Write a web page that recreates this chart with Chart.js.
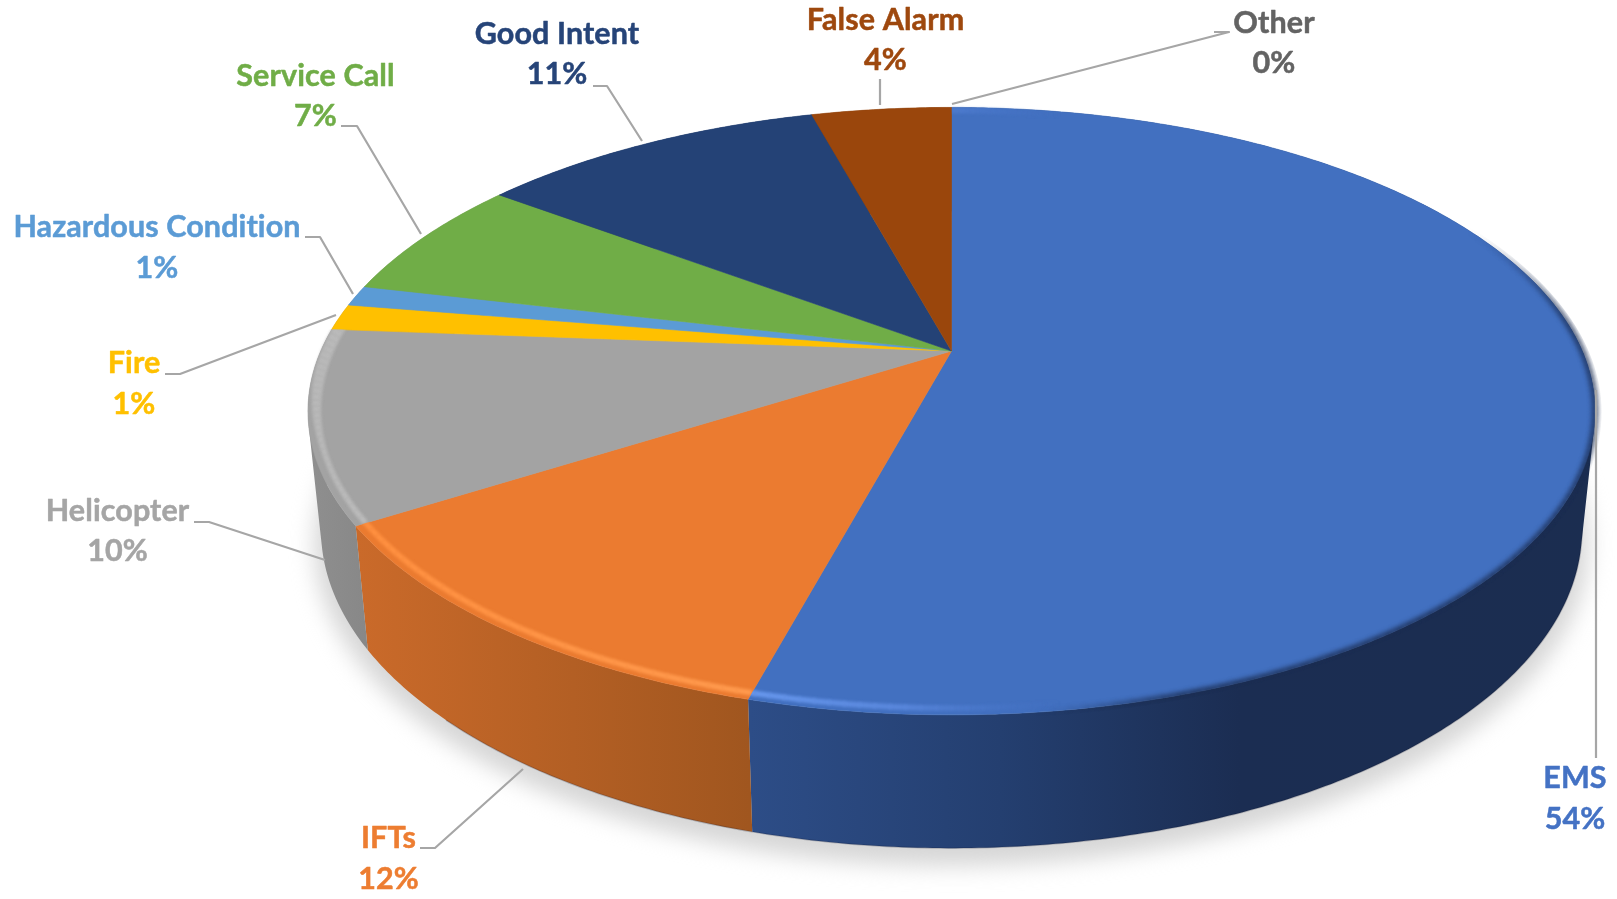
<!DOCTYPE html>
<html>
<head>
<meta charset="utf-8">
<style>html,body{margin:0;padding:0;background:#fff;overflow:hidden}canvas{display:block}</style>
<script src="https://cdn.jsdelivr.net/npm/chart.js@4/dist/chart.umd.js"></script>
</head>
<body>
<canvas id="c" width="1617" height="899"></canvas>
<script>
const categories = ["EMS","IFTs","Helicopter","Fire","Hazardous Condition","Service Call","Good Intent","False Alarm","Other"];
const shareValues = [54.2,11.8,10.2,1.4,1.1,6.5,10.55,4.25,0.0];
const sliceColors = ["#4270C0","#EB7B30","#A3A3A3","#FFC000","#5B9BD5","#70AD47","#244276","#9A460C","#636363"];
const textColors  = ["#4472C4","#ED7D31","#A5A5A5","#FFC000","#5B9BD5","#70AD47","#264478","#9E480E","#636363"];

// presentation geometry of the tilted pie (perspective projection of the unit circle)
const TOP  = {cx:951.5, cy:351, R:630.8, K:291.8};
const BASE = {cx:951.5, cy:466.6, R:618, K:306};
const TILT = 0.198;
const wallStops = [
  [[750,"#2D4D87"],[1000,"#243F70"],[1240,"#1B2D52"],[1600,"#1B2D50"]],
  [[358,"#CA6A2A"],[750,"#A0561F"]],
  [[308,"#8F8F8F"],[372,"#878787"]],
  [[0,"#8F8F8F"]],[[0,"#8F8F8F"]],[[0,"#8F8F8F"]],[[0,"#1A2E52"]],[[0,"#6E3208"]],[[0,"#444444"]]
];
const rimGlow = [
  [[750,"rgba(104,152,238,1)"],[900,"rgba(96,142,228,.75)"],[1060,"rgba(70,115,200,0)"]],
  [[358,"#FF9040"],[750,"#FF9A4E"]],
  [[308,"#B8B8B8"],[372,"#BDBDBD"]],
  null,null,null,null,null,null
];
const labelSpots = [[1575,788,829],[388.5,848,888.5],[117.5,521,561],[134,373,414],[157,237,278],[315.5,86,126],[557,44,84],[885.5,30,70],[1274,33,73]];
const leaderPaths = [
  [[1596,390],[1596,758]],
  [[420,848],[435,848],[523,769]],
  [[194,522],[209,522],[325,560]],
  [[165,374],[180,374],[336,315]],
  [[305,237],[320,237],[353,294]],
  [[341,126],[357,126],[421,234]],
  [[593,86],[607,86],[642,141]],
  [[880,79],[880,105]],
  [[1214,32],[1229,32],[952,104]]
];

function project(d, ang, r){
  const x = r*Math.cos(ang), y = r*Math.sin(ang), w = 1 - TILT*y;
  return [d.cx + d.R*x/w, d.cy + d.K*y/w];
}
function arcPoints(d, a0, a1, r){
  const n = Math.max(2, Math.ceil(Math.abs(a1-a0)/0.01)), pts = [];
  for(let i=0;i<=n;i++) pts.push(project(d, a0+(a1-a0)*i/n, r));
  return pts;
}
function tracePts(ctx, pts, move){
  pts.forEach((p,i)=> (i===0 && move!==false) ? ctx.moveTo(p[0],p[1]) : ctx.lineTo(p[0],p[1]));
}
function xGradient(ctx, stops){
  if(stops.length===1) return stops[0][1];
  const x0=stops[0][0], x1=stops[stops.length-1][0];
  const g=ctx.createLinearGradient(x0,0,x1,0);
  stops.forEach(s=>g.addColorStop((s[0]-x0)/(x1-x0),s[1]));
  return g;
}
function ramp(v,a,b){ const t=Math.min(1,Math.max(0,(v-a)/(b-a))); return t*t*(3-2*t); }

const tiltedPie = {
  id:'tiltedPie',
  beforeDatasetDraw(chart){
    const ctx = chart.ctx;
    const arcs = chart.getDatasetMeta(0).data;
    ctx.save();
    // soft ground shadow
    ctx.save();
    ctx.filter='blur(11px)';
    ctx.fillStyle='#d6d6d6';
    ctx.beginPath();
    tracePts(ctx, arcPoints({...BASE, cy:BASE.cy+13}, 0, Math.PI*2, 1.01));
    ctx.closePath(); ctx.fill();
    ctx.restore();
    // walls: narrow quads gathered in one path, so the silhouette follows the straight tangent between rims
    arcs.forEach((arc,i)=>{
      if(arc.endAngle-arc.startAngle<1e-4) return;
      const t=arcPoints(TOP,arc.startAngle,arc.endAngle,1), b=arcPoints(BASE,arc.startAngle,arc.endAngle,1);
      ctx.fillStyle=xGradient(ctx,wallStops[i]);
      ctx.beginPath();
      for(let k=0;k<t.length-1;k++){
        const o=(t[k+1][0]-t[k][0])*(b[k][1]-t[k][1])-(t[k+1][1]-t[k][1])*(b[k][0]-t[k][0]);
        const q=[t[k],t[k+1],b[k+1],b[k]];
        if(o<0) q.reverse();
        tracePts(ctx,q); ctx.closePath();
      }
      ctx.fill();
    });
    // darker lip at the foot of the wall
    ctx.save();
    ctx.beginPath();
    tracePts(ctx,arcPoints(BASE,0.2,2.35,1));
    ctx.strokeStyle='rgba(20,25,45,.22)'; ctx.lineWidth=1.5; ctx.stroke();
    ctx.restore();
    // top faces
    arcs.forEach((arc,i)=>{
      if(arc.endAngle-arc.startAngle<1e-4) return;
      ctx.beginPath(); ctx.moveTo(TOP.cx,TOP.cy); tracePts(ctx,arcPoints(TOP,arc.startAngle,arc.endAngle,1),false); ctx.closePath();
      ctx.fillStyle=sliceColors[i]; ctx.strokeStyle=sliceColors[i]; ctx.lineWidth=.6; ctx.fill(); ctx.stroke();
    });
    // dark blurred edge on the far right of the big slice
    ctx.save();
    ctx.beginPath(); ctx.moveTo(TOP.cx,TOP.cy); tracePts(ctx,arcPoints(TOP,arcs[0].startAngle,arcs[0].endAngle,1.01),false); ctx.closePath(); ctx.clip();
    ctx.filter='blur(2.5px)';
    ctx.lineWidth=5;
    for(let a=-0.6;a<1.7;a+=0.02){
      const p=project(TOP,a+0.01,1);
      const alpha=ramp(a,-0.5,-0.05)*(1-ramp(1200-p[0],0,170));
      if(alpha<=0.01) continue;
      ctx.beginPath(); tracePts(ctx,arcPoints(TOP,a,a+0.021,1));
      ctx.strokeStyle='rgba(27,45,82,'+alpha.toFixed(3)+')'; ctx.stroke();
    }
    ctx.restore();
    // bevel highlight inside the rim
    arcs.forEach((arc,i)=>{
      if(!rimGlow[i]) return;
      ctx.save();
      ctx.beginPath(); ctx.moveTo(TOP.cx,TOP.cy); tracePts(ctx,arcPoints(TOP,arc.startAngle,arc.endAngle,1.012),false); ctx.closePath(); ctx.clip();
      ctx.filter='blur(1.6px)';
      ctx.strokeStyle=xGradient(ctx,rimGlow[i]);
      const step=0.02;
      for(let a=arc.startAngle;a<arc.endAngle;a+=step){
        const wide=ramp(a,2.75,3.1);
        const inset=0.985+0.004*wide;
        const fade=1-ramp(a,3.25,3.45);
        if(fade<=0) continue;
        ctx.globalAlpha=fade;
        ctx.lineWidth=5.5+6*wide;
        ctx.beginPath();
        const p0=project(TOP,a,inset), p1=project(TOP,a+step*1.1,inset);
        ctx.moveTo(p0[0],p0[1]); ctx.lineTo(p1[0],p1[1]); ctx.stroke();
      }
      ctx.restore();
    });
    ctx.restore();
    return false;
  },
  afterDatasetsDraw(chart){
    const ctx = chart.ctx, total = shareValues.reduce((a,b)=>a+b,0);
    ctx.save();
    ctx.strokeStyle='#A6A6A6'; ctx.lineWidth=2.2; ctx.lineJoin='round';
    leaderPaths.forEach(p=>{ ctx.beginPath(); tracePts(ctx,p); ctx.stroke(); });
    ctx.font='bold 30.5px Lato'; ctx.textAlign='center'; ctx.textBaseline='alphabetic'; ctx.lineWidth=.5; ctx.lineJoin='round';
    ctx.letterSpacing='0.1px';
    categories.forEach((name,i)=>{
      const s=labelSpots[i], pct=Math.round(shareValues[i]/total*100)+'%';
      ctx.fillStyle=textColors[i]; ctx.strokeStyle=textColors[i];
      ctx.fillText(name,s[0],s[1]); ctx.strokeText(name,s[0],s[1]);
      ctx.fillText(pct,s[0],s[2]); ctx.strokeText(pct,s[0],s[2]);
    });
    ctx.restore();
  }
};

new Chart(document.getElementById('c'),{
  type:'pie',
  data:{labels:categories,datasets:[{data:shareValues,backgroundColor:sliceColors,borderWidth:0}]},
  options:{
    responsive:false,animation:false,
    plugins:{legend:{display:false},tooltip:{enabled:false},title:{display:false}}
  },
  plugins:[tiltedPie]
});
</script>
</body>
</html>
